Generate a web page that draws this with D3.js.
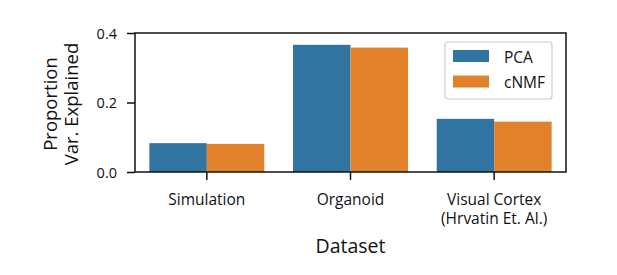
<!DOCTYPE html>
<meta charset="utf-8">
<head>
    <script src="https://d3js.org/d3.v7.min.js"></script>
    <style>
        html, body { margin: 0; padding: 0; background: #fff; }
        svg text { font-family: "Open Sans", sans-serif; fill: #111; }
    </style>
</head>
<body>
<svg width="617" height="275"></svg>
<script>

// data
var datasets = ["Simulation", "Organoid", "Visual Cortex\n(Hrvatin Et. Al.)"];
var methods = ["PCA", "cNMF"];
var pcaValues = [0.083, 0.366, 0.153];
var cnmfValues = [0.081, 0.358, 0.145];
var yTicks = [0.0, 0.2, 0.4];
var colors = ["#3274a1", "#e1812c"];

var svg = d3.select("svg"),
    margin = {top: 33, right: 51, bottom: 103, left: 135},
    width = +svg.attr("width") - margin.left - margin.right,
    height = +svg.attr("height") - margin.top - margin.bottom;

var x = d3.scaleBand().domain(datasets).range([0, width]).padding(0.2).paddingOuter(0.1);
var xInner = d3.scaleBand().domain(methods).range([0, x.bandwidth()]);
var y = d3.scaleLinear().domain([0, 0.4]).range([height, 0]);

var g = svg.append("g")
    .attr("transform", "translate(" + margin.left + "," + margin.top + ")");

var rows = datasets.map((d, i) => ({name: d, vals: [pcaValues[i], cnmfValues[i]]}));

var groups = g.selectAll(".grp").data(rows).enter().append("g")
    .attr("transform", d => "translate(" + x(d.name) + ",0)");

groups.selectAll("rect").data(d => d.vals.map((v, j) => ({m: methods[j], v: v, c: colors[j]})))
    .enter().append("rect")
    .attr("x", d => xInner(d.m))
    .attr("width", xInner.bandwidth())
    .attr("y", d => y(d.v))
    .attr("height", d => height - y(d.v))
    .attr("fill", d => d.c);

// axes
var yAxis = g.append("g")
    .call(d3.axisLeft(y).tickValues(yTicks).tickFormat(d3.format(".1f")).tickSize(8).tickPadding(10));
yAxis.select(".domain").remove();
yAxis.selectAll("line").attr("stroke", "#111").attr("stroke-width", 1.5);
yAxis.selectAll("text").style("font-size", "14.5px").attr("dy", "0.36em");

var xAxis = g.append("g")
    .attr("transform", "translate(0," + height + ")")
    .call(d3.axisBottom(x).tickSize(8).tickPadding(6));
xAxis.select(".domain").remove();
xAxis.selectAll("line").attr("stroke", "#111").attr("stroke-width", 1.5);
xAxis.selectAll("text").remove();
xAxis.selectAll(".tick").each(function(d) {
    var lines = d.split("\n");
    var t = d3.select(this).append("text")
        .attr("text-anchor", "middle")
        .style("font-size", "15.5px");
    lines.forEach((l, i) => {
        t.append("tspan").attr("x", 0).attr("y", 33 + i * 18.5).text(l);
    });
});

// frame
g.append("rect")
    .attr("width", width).attr("height", height)
    .attr("fill", "none").attr("stroke", "#111").attr("stroke-width", 1.5);

// axis titles
svg.append("text")
    .attr("text-anchor", "middle")
    .attr("transform", "translate(57,104) rotate(-90)")
    .style("font-size", "18.5px")
    .text("Proportion");
svg.append("text")
    .attr("text-anchor", "middle")
    .attr("transform", "translate(78,104) rotate(-90)")
    .style("font-size", "18.5px")
    .text("Var. Explained");

svg.append("text")
    .attr("text-anchor", "middle")
    .attr("x", margin.left + width / 2)
    .attr("y", 253)
    .style("font-size", "19.5px")
    .text("Dataset");

// legend
var legend = g.append("g").attr("transform", "translate(" + (445 - margin.left) + "," + (42 - margin.top) + ")");
legend.append("rect")
    .attr("width", 107).attr("height", 57).attr("rx", 3)
    .attr("fill", "#fff").attr("stroke", "#ccc").attr("stroke-width", 1.2);
methods.forEach((m, i) => {
    legend.append("rect")
        .attr("x", 8).attr("y", 8 + i * 25.5)
        .attr("width", 36).attr("height", 12)
        .attr("fill", colors[i]);
    legend.append("text")
        .attr("x", 59).attr("y", 20.5 + i * 25.5)
        .style("font-size", "15.5px")
        .text(m);
});

</script>
</body>
</html>
